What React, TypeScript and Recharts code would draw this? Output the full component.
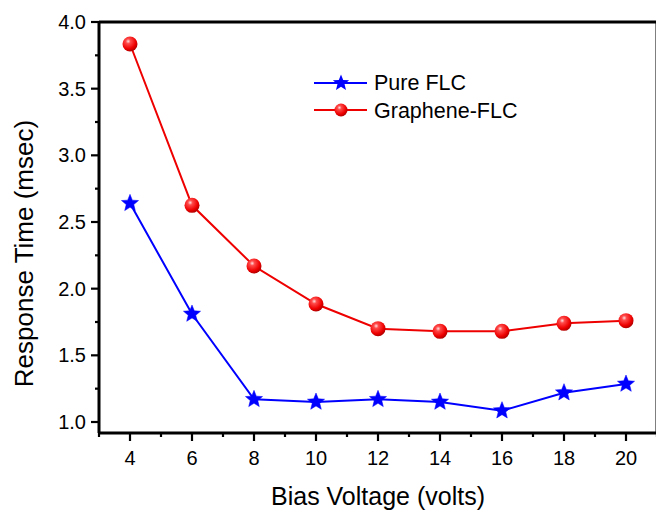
import { LineChart, Line, XAxis, YAxis, ReferenceLine, Legend } from 'recharts'

const voltages = [4, 6, 8, 10, 12, 14, 16, 18, 20]
const pureFlc = [2.64, 1.81, 1.17, 1.15, 1.17, 1.15, 1.085, 1.22, 1.285]
const grapheneFlc = [3.835, 2.625, 2.17, 1.885, 1.7, 1.68, 1.68, 1.74, 1.76]
const seriesNames = ['Pure FLC', 'Graphene-FLC']
const xTicks = [3, 4, 5, 6, 7, 8, 9, 10, 11, 12, 13, 14, 15, 16, 17, 18, 19, 20, 21]
const yTicks = [1.0, 1.25, 1.5, 1.75, 2.0, 2.25, 2.5, 2.75, 3.0, 3.25, 3.5, 3.75, 4.0]

const data = voltages.map((v, i) => ({ v, pure: pureFlc[i], graphene: grapheneFlc[i] }))

const FONT = '"Liberation Sans", Arial, sans-serif'
const BLUE = '#0000ff'
const RED = '#ee0000'

function starPoints(cx: number, cy: number, r: number) {
  const pts: string[] = []
  for (let k = 0; k < 10; k++) {
    const rad = k % 2 === 0 ? r : r * 0.44
    const a = -Math.PI / 2 + (k * Math.PI) / 5
    pts.push(`${cx + rad * Math.cos(a)},${cy + rad * Math.sin(a)}`)
  }
  return pts.join(' ')
}

function StarDot(props: any) {
  const { cx, cy, index } = props
  if (cx == null || cy == null) return null
  return <polygon key={`s${index}`} points={starPoints(cx, cy, 9)} fill={BLUE} stroke={BLUE} strokeWidth={0.5} />
}

function SphereDot(props: any) {
  const { cx, cy, index } = props
  if (cx == null || cy == null) return null
  return <circle key={`c${index}`} cx={cx} cy={cy} r={7.5} fill="url(#sphere)" />
}

function SphereGradient({ id }: { id: string }) {
  return (
    <radialGradient id={id} cx="0.38" cy="0.32" r="0.72">
      <stop offset="0%" stopColor="#ffe0e0" />
      <stop offset="22%" stopColor="#ff4a4a" />
      <stop offset="70%" stopColor="#ee0000" />
      <stop offset="100%" stopColor="#a80000" />
    </radialGradient>
  )
}

function XTick({ x, y, payload }: any) {
  const major = payload.value % 2 === 0
  return (
    <g>
      <line x1={x} y1={y} x2={x} y2={y + (major ? 8 : 4)} stroke="#000" strokeWidth={2.2} />
      {major && (
        <text x={x} y={y + 32} textAnchor="middle" fontSize={20} fontFamily={FONT} fill="#000">
          {payload.value}
        </text>
      )}
    </g>
  )
}

function YTick({ x, y, payload }: any) {
  const major = Math.abs(payload.value * 2 - Math.round(payload.value * 2)) < 1e-6
  return (
    <g>
      <line x1={x} y1={y} x2={x - (major ? 8 : 4)} y2={y} stroke="#000" strokeWidth={2.2} />
      {major && (
        <text x={x - 13} y={y + 7} textAnchor="end" fontSize={20} fontFamily={FONT} fill="#000">
          {payload.value.toFixed(1)}
        </text>
      )}
    </g>
  )
}

function LegendBox() {
  return (
    <svg width={230} height={60} style={{ display: 'block' }}>
      <defs>
        <SphereGradient id="sphereLegend" />
      </defs>
      <line x1={2} y1={15} x2={55} y2={15} stroke={BLUE} strokeWidth={2} />
      <polygon points={starPoints(29, 15, 8.5)} fill={BLUE} />
      <text x={62} y={22} fontSize={21.5} fontFamily={FONT} fill="#000">{seriesNames[0]}</text>
      <line x1={2} y1={42} x2={55} y2={42} stroke={RED} strokeWidth={2} />
      <circle cx={29} cy={42} r={6.5} fill="url(#sphereLegend)" />
      <text x={62} y={50} fontSize={21.5} fontFamily={FONT} fill="#000">{seriesNames[1]}</text>
    </svg>
  )
}

export default function App() {
  return (
    <div style={{ position: 'absolute', left: 0, top: 0, width: 656, height: 511, overflow: 'hidden', background: '#fff' }}>
      <LineChart width={660} height={511} data={data} margin={{ top: 22, right: 3, left: 0, bottom: 0 }}>
        <defs>
          <SphereGradient id="sphere" />
        </defs>
        <XAxis
          dataKey="v"
          type="number"
          domain={[3, 21]}
          ticks={xTicks}
          interval={0}
          height={78}
          tickSize={0}
          tickMargin={0}
          tick={<XTick />}
          tickLine={false}
          axisLine={{ stroke: '#000', strokeWidth: 3 }}
          allowDataOverflow
          label={{
            value: 'Bias Voltage (volts)',
            position: 'insideBottom',
            offset: 6,
            style: { fontSize: 25, fontFamily: FONT, fill: '#000' },
          }}
        />
        <YAxis
          type="number"
          domain={[0.9175, 4]}
          ticks={yTicks}
          interval={0}
          width={99}
          tickSize={0}
          tickMargin={0}
          tick={<YTick />}
          tickLine={false}
          axisLine={{ stroke: '#000', strokeWidth: 3 }}
          allowDataOverflow
          label={{
            value: 'Response Time (msec)',
            angle: -90,
            position: 'center',
            dx: -25.5,
            dy: 26,
            style: { fontSize: 26, fontFamily: FONT, fill: '#000', textAnchor: 'middle' },
          }}
        />
        <ReferenceLine y={4} stroke="#000" strokeWidth={3} ifOverflow="visible" />
        <ReferenceLine x={21} stroke="#000" strokeWidth={3} ifOverflow="visible" />
        <Legend
          layout="horizontal"
          verticalAlign="middle"
          align="center"
          content={<LegendBox />}
          wrapperStyle={{ left: 312, top: 68, width: 230, height: 60 }}
        />
        <Line
          dataKey="pure"
          name={seriesNames[0]}
          stroke={BLUE}
          strokeWidth={2}
          dot={<StarDot />}
          activeDot={false}
          isAnimationActive={false}
        />
        <Line
          dataKey="graphene"
          name={seriesNames[1]}
          stroke={RED}
          strokeWidth={2}
          dot={<SphereDot />}
          activeDot={false}
          isAnimationActive={false}
        />
      </LineChart>
    </div>
  )
}
